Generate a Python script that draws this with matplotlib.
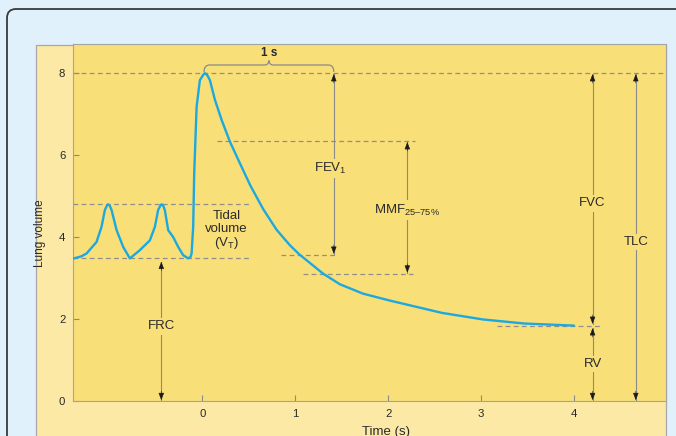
import matplotlib
matplotlib.use('Agg')
import matplotlib.pyplot as plt
from matplotlib.patches import FancyBboxPatch, Rectangle, PathPatch
from matplotlib.path import Path

plt.rcParams['font.family'] = ['Liberation Sans', 'DejaVu Sans']
plt.rcParams['mathtext.fontset'] = 'custom'
plt.rcParams['mathtext.rm'] = 'Liberation Sans'
plt.rcParams['mathtext.it'] = 'Liberation Sans'
plt.rcParams['mathtext.default'] = 'regular'

# ---------------- data ----------------
time_s = [-1.38, -1.30, -1.244, -1.137, -1.083, -1.047, -1.025, -1.012, -0.995, -0.975, -0.921, -0.850, -0.778,
          -0.671, -0.563, -0.509, -0.474, -0.450, -0.437, -0.420, -0.402, -0.366, -0.312, -0.258, -0.205, -0.151,
          -0.125, -0.114, -0.097, -0.086, -0.060, -0.025, 0.011, 0.03, 0.055,
          0.083, 0.137, 0.209, 0.298, 0.406, 0.52, 0.657, 0.80, 0.944, 1.044, 1.30, 1.48,
          1.73, 2.02, 2.58, 3.02, 3.47, 4.0]
volume_l = [3.48, 3.53, 3.60, 3.88, 4.25, 4.66, 4.77, 4.80, 4.77, 4.66, 4.17, 3.76, 3.48,
            3.68, 3.92, 4.25, 4.66, 4.77, 4.80, 4.77, 4.66, 4.17, 4.00, 3.76, 3.56, 3.48,
            3.52, 3.60, 4.25, 5.55, 7.18, 7.83, 7.96, 8.0, 7.95,
            7.83, 7.35, 6.86, 6.33, 5.80, 5.25, 4.68, 4.18, 3.80, 3.58, 3.11, 2.85,
            2.62, 2.45, 2.15, 1.99, 1.89, 1.84]

x_ticks = [0, 1, 2, 3, 4]
y_ticks = [0, 2, 4, 6, 8]
x_limits = (-1.39, 4.99)
y_limits = (0, 8.70)

tlc_level = 8.0
tidal_top = 4.80
frc_level = 3.48
fev1_level = 3.57
mmf_top = 6.34
mmf_bottom = 3.11
rv_level = 1.83

fev1_x = 1.416
mmf_x = 2.207
fvc_x = 4.20
tlc_x = 4.665
frc_x = -0.44
brace_start, brace_end = 0.02, 1.416

# ---------------- styling ----------------
BG = '#e1f1fb'
PANEL = '#fce9a6'
AX_BG = '#f9df78'
CURVE = '#1ca8e0'
DASH = '#8e8e8e'
ARROW = '#8a8a8a'
HEAD = '#1a1a1a'
TXT = '#2a2a2a'

fig = plt.figure(figsize=(6.76, 4.36), dpi=100)
fig.patch.set_facecolor(BG)

# rounded outer frame
frame = FancyBboxPatch((0.07, -0.5), 7.5, 4.27 + 0.5,
                       boxstyle='round,pad=0,rounding_size=0.09',
                       transform=fig.dpi_scale_trans, facecolor=BG,
                       edgecolor='#3a3a3a', lw=1.3, zorder=-10)
fig.patches.append(frame)
# pale label panel
panel = Rectangle((0.36, -0.2), 6.30, 3.915 + 0.2, transform=fig.dpi_scale_trans,
                  facecolor=PANEL, edgecolor='#a8a8a8', lw=0.9, zorder=-9)
fig.patches.append(panel)

ax = fig.add_axes([73 / 676, 35 / 436, 593 / 676, 356.5 / 436])
ax.set_zorder(2)
ax.set_facecolor(AX_BG)
ax.set_xlim(*x_limits)
ax.set_ylim(*y_limits)
ax.set_xticks(x_ticks)
ax.set_yticks(y_ticks)
ax.tick_params(direction='in', length=4, width=0.8, color='#8a8a8a',
               labelsize=8.2, labelcolor=TXT, pad=5.5)
for s in ax.spines.values():
    s.set_color('#a4a4a4')
    s.set_linewidth(0.8)

dash_kw = dict(color=DASH, lw=0.9, linestyle=(0, (3.8, 2.7)), zorder=2)
ax.axhline(tlc_level, **dash_kw)
ax.plot([x_limits[0], 0.514], [tidal_top, tidal_top], **dash_kw)
ax.plot([x_limits[0], 0.514], [frc_level, frc_level], **dash_kw)
ax.plot([0.155, 2.29], [mmf_top, mmf_top], **dash_kw)
ax.plot([0.85, 1.464], [fev1_level, fev1_level], **dash_kw)
ax.plot([1.087, 2.27], [mmf_bottom, mmf_bottom], **dash_kw)
ax.plot([3.17, 4.28], [rv_level, rv_level], **dash_kw)

# spirogram curve
ax.plot(time_s, volume_l, color=CURVE, lw=1.7, solid_joinstyle='round',
        solid_capstyle='round', zorder=6)


def head(x, y, up):
    off = -6.5 if up else 6.5
    ax.annotate('', xy=(x, y), xytext=(0, off), textcoords='offset points',
                arrowprops=dict(arrowstyle='-|>,head_length=0.45,head_width=0.17',
                                color=HEAD, lw=0.4, shrinkA=0, shrinkB=0),
                zorder=5)


def varrow(x, y_low, y_high):
    ax.plot([x, x], [y_low, y_high], color=ARROW, lw=0.8, zorder=3)
    head(x, y_high, True)
    head(x, y_low, False)


def label(x, y, s, size=9.5):
    ax.text(x, y, s, ha='center', va='center', fontsize=size, color=TXT,
            bbox=dict(facecolor=AX_BG, edgecolor='none', pad=1.5), zorder=4)


varrow(fev1_x, fev1_level + 0.02, tlc_level - 0.02)
varrow(mmf_x, mmf_bottom + 0.02, mmf_top - 0.02)
varrow(fvc_x, rv_level + 0.05, tlc_level - 0.02)
varrow(fvc_x, 0.02, rv_level - 0.05)
varrow(tlc_x, 0.02, tlc_level - 0.02)
varrow(frc_x, 0.02, frc_level - 0.08)

label(fev1_x - 0.04, 5.68, 'FEV$_1$')
label(mmf_x, 4.66, 'MMF$_{25\u201375\\%}$')
label(fvc_x, 4.82, 'FVC')
label(tlc_x, 3.88, 'TLC')
label(fvc_x, 0.91, 'RV')
label(frc_x, 1.82, 'FRC')

ax.text(0.26, 4.15, 'Tidal\nvolume\n(V$_T$)', ha='center', va='center',
        fontsize=9.5, color=TXT, linespacing=1.05, zorder=4)

# "1 s" brace
xc = (brace_start + brace_end) / 2
yb, yt, ye = 8.20, 8.31, 8.03
verts = [(brace_start, ye), (brace_start, yb), (brace_start + 0.06, yb),
         (xc - 0.045, yb), (xc - 0.005, yb), (xc, yt),
         (xc + 0.005, yb), (xc + 0.045, yb),
         (brace_end - 0.06, yb), (brace_end, yb), (brace_end, ye)]
codes = [Path.MOVETO, Path.CURVE3, Path.CURVE3, Path.LINETO, Path.CURVE3, Path.CURVE3,
         Path.CURVE3, Path.CURVE3, Path.LINETO, Path.CURVE3, Path.CURVE3]
ax.add_patch(PathPatch(Path(verts, codes), facecolor='none', edgecolor='#8a8a8a',
                       lw=0.9, zorder=3))
ax.text(xc, 8.49, '1 s', ha='center', va='center', fontsize=8.5, color=TXT,
        fontweight='bold')

fig.text(40 / 676, 1 - 233 / 436, 'Lung volume', rotation=90, ha='center',
         va='center', fontsize=8.5, color=TXT)
fig.text(386 / 676, 1 - 431.5 / 436, 'Time (s)', ha='center', va='center',
         fontsize=9.5, color=TXT)

fig.savefig('out.png', dpi=100, facecolor=BG)
